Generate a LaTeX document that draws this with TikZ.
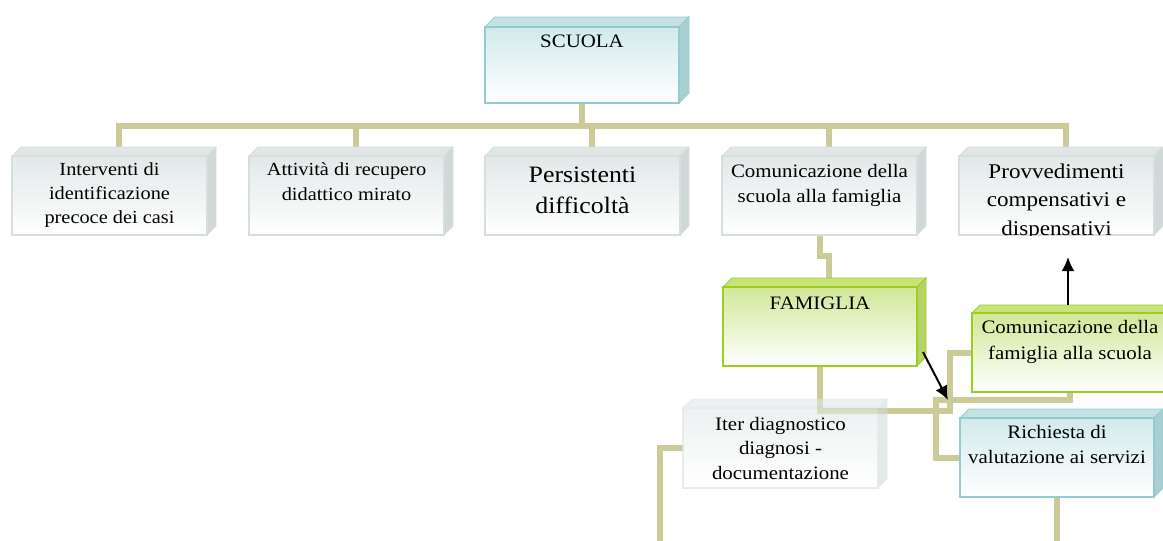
\documentclass[tikz,border=0pt]{standalone}
\usepackage{fontspec}
\setmainfont{Liberation Serif}[FakeStretch=1.1]
\usetikzlibrary{arrows.meta}
\definecolor{conncol}{RGB}{204,203,152}
\definecolor{tealtop}{RGB}{196,226,228}
\definecolor{tealside}{RGB}{168,208,211}
\definecolor{tealedge}{RGB}{146,204,207}
\definecolor{tealfront}{RGB}{210,234,236}
\definecolor{graytop}{RGB}{224,230,230}
\definecolor{grayside}{RGB}{208,216,216}
\definecolor{grayedge}{RGB}{214,222,222}
\definecolor{grayfront}{RGB}{226,232,232}
\definecolor{greentop}{RGB}{202,226,124}
\definecolor{greenside}{RGB}{182,211,106}
\definecolor{greenedge}{RGB}{156,206,30}
\definecolor{greenfront}{RGB}{208,232,152}
\newcommand\boxthreed[7]{%
  \filldraw[#7top,draw=#7edge,line width=0.8pt] (#2,#3) -- ++(#6,-#6) -- ({#4+#6},{#3-#6}) -- (#4,#3) -- cycle;
  \filldraw[#7side,draw=#7edge,line width=0.8pt] (#4,#3) -- ({#4+#6},{#3-#6}) -- ({#4+#6},{#5-#6}) -- (#4,#5) -- cycle;
  \node[face,draw=#7edge,top color=#7front,bottom color=white,minimum width={#4-#2},minimum height={#5-#3}] (#1) at (#2,#3) {};
  \coordinate (#1-t) at ({(#2+#4)/2+#6},{#3-#6});
}
\newcommand\tb[3]{\parbox[t]{210pt}{\centering\fontsize{#1}{#2}\selectfont #3}}
\tikzset{
  face/.style={rectangle,inner sep=0pt,outer sep=0pt,anchor=north west,line width=1.6pt},
  conn/.style={draw=conncol,line width=6pt},
  arr/.style={draw=black,line width=2pt,-{Latex[length=14pt,width=13pt]}},
  txt/.style={inner sep=0pt,outer sep=0pt,anchor=base,text=black},
}
\begin{document}
\begin{tikzpicture}[x=1pt,y=-1pt]
\useasboundingbox (0,0) rectangle (1163,541);
\clip (0,0) rectangle (1163,541);
% free ends of connectors and arrows
\coordinate (bus) at (0,126);
\coordinate (iterend) at (660,548);
\coordinate (a1s) at (923,352);
\coordinate (a1e) at (948,400);
\coordinate (a2s) at (1068,305);
\coordinate (a2e) at (1068,257);
% first pass (invisible) to define box names for the connectors
\begin{scope}[opacity=0]
\boxthreed{scuola}{485}{27}{679}{103}{10}{teal}
\boxthreed{int}{12}{156}{207}{235}{9}{gray}
\boxthreed{att}{249}{156}{444}{235}{9}{gray}
\boxthreed{pers}{485}{156}{680}{235}{9}{gray}
\boxthreed{comsc}{722}{156}{917}{235}{9}{gray}
\boxthreed{prov}{959}{156}{1154}{235}{9}{gray}
\boxthreed{fam}{723}{287}{917}{366}{9}{green}
\boxthreed{comfam}{972}{313}{1168}{392}{8}{green}
\boxthreed{iter}{683}{408}{878}{488}{9}{gray}
\boxthreed{rich}{960}{418}{1154}{497}{9}{teal}
\end{scope}
% --- connectors ---
\draw[conn] (scuola.south) -- (scuola.south |- bus);
\draw[conn] (int-t) -- (int-t |- bus) -- (prov-t |- bus) -- (prov-t);
\draw[conn] (att-t) -- (att-t |- bus);
\draw[conn] (pers-t) -- (pers-t |- bus);
\draw[conn] (comsc-t) -- (comsc-t |- bus);
\draw[conn] (comsc.south) -- ++(0,21) -| (fam-t);
\draw[conn] (fam.south) -- ++(0,44.5) -| ([xshift=-22.5pt]comfam.west) -- (comfam.west);
\draw[conn] (comfam.south) -- ++(0,7.5) -| ([xshift=-24pt]rich.west) -- (rich.west);
\draw[conn] (iter.west) -| (iterend);
\draw[conn] (rich.south) -- (rich.south |- iterend);
% --- boxes ---
\boxthreed{scuola}{485}{27}{679}{103}{10}{teal}
\boxthreed{int}{12}{156}{207}{235}{9}{gray}
\boxthreed{att}{249}{156}{444}{235}{9}{gray}
\boxthreed{pers}{485}{156}{680}{235}{9}{gray}
\boxthreed{comsc}{722}{156}{917}{235}{9}{gray}
\boxthreed{prov}{959}{156}{1154}{235}{9}{gray}
\boxthreed{fam}{723}{287}{917}{366}{9}{green}
\boxthreed{comfam}{972}{313}{1168}{392}{8}{green}
\begin{scope}[opacity=0.6,transparency group]
\boxthreed{iter}{683}{408}{878}{488}{9}{gray}
\end{scope}
\boxthreed{rich}{960}{418}{1154}{497}{9}{teal}
% --- texts ---
\node[txt] (scuola-l) at ([yshift=-20pt]scuola.north) {\tb{19}{24}{SCUOLA}};
\node[txt] (int-l) at ([yshift=-19pt]int.north) {\tb{18.5}{24}{Interventi di\\identificazione\\precoce dei casi}};
\node[txt] (att-l) at ([yshift=-19pt]att.north) {\tb{18.5}{25}{Attività di recupero\\didattico mirato}};
\node[txt] (pers-l) at ([yshift=-26pt]pers.north) {\tb{23.5}{31}{Persistenti\\difficoltà}};
\node[txt] (comsc-l) at ([yshift=-21pt]comsc.north) {\tb{19}{25}{Comunicazione della\\scuola alla famiglia}};
\begin{scope}
\clip (prov.north west) rectangle (prov.south east);
\node[txt] (prov-l) at ([yshift=-22pt]prov.north) {\tb{21}{28.5}{Provvedimenti\\compensativi e\\dispensativi}};
\end{scope}
\node[txt] (fam-l) at ([yshift=-22pt]fam.north) {\tb{19}{24}{FAMIGLIA}};
\node[txt] (comfam-l) at ([yshift=-20pt]comfam.north) {\tb{19}{26}{Comunicazione della\\famiglia alla scuola}};
\node[txt] (iter-l) at ([yshift=-22pt]iter.north) {\tb{19}{24.5}{Iter diagnostico\\diagnosi -\\documentazione}};
\node[txt] (rich-l) at ([yshift=-20pt]rich.north) {\tb{19}{25}{Richiesta di\\valutazione ai servizi}};
% --- black arrows ---
\draw[arr] (a1s) -- (a1e);
\draw[arr] (a2s) -- (a2e);
\end{tikzpicture}
\end{document}
